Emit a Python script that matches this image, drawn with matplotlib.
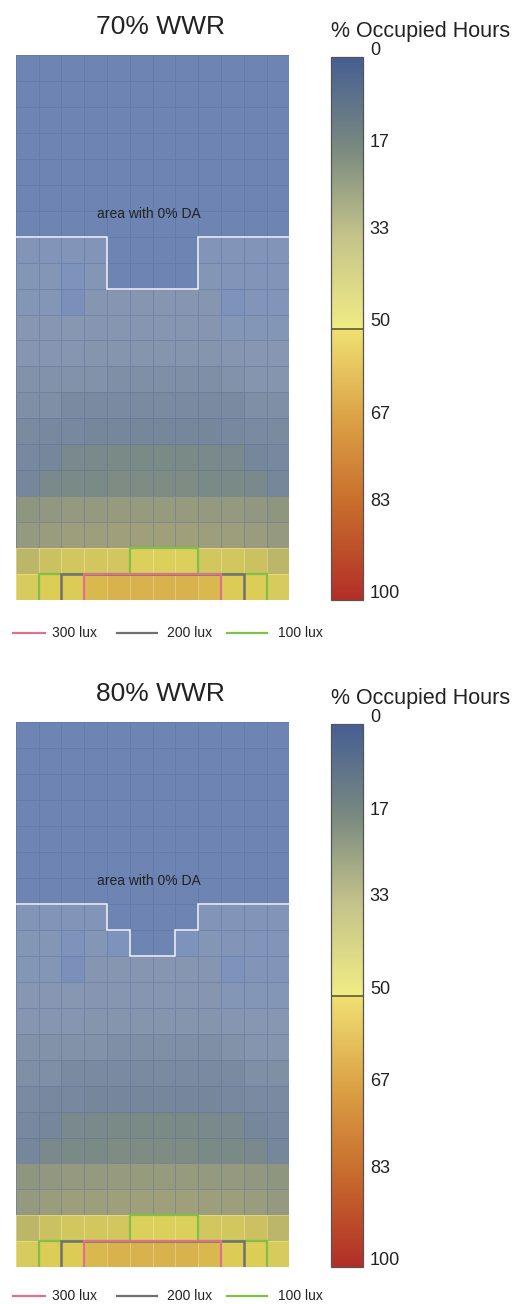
import numpy as np
import matplotlib
matplotlib.use("Agg")
import matplotlib.pyplot as plt
from matplotlib.colors import LinearSegmentedColormap, Normalize, to_rgba
from matplotlib.cm import ScalarMappable
from matplotlib.lines import Line2D
from matplotlib import transforms

plt.rcParams['font.family'] = ['Liberation Sans', 'DejaVu Sans']

# ---------------- data ----------------
panel_titles = ["70% WWR", "80% WWR"]
cbar_title = "% Occupied Hours"
cbar_ticks = [0, 17, 33, 50, 67, 83, 100]
annotation = "area with 0% DA"
legend_labels = ["300 lux", "200 lux", "100 lux"]

n_cols = 12
n_rows = 21

# % occupied hours per cell (rows top -> bottom, window at the bottom)
da_70 = [
    [0] * 12, [0] * 12, [0] * 12, [0] * 12, [0] * 12, [0] * 12, [0] * 12,
    [4, 4, 4, 4, 0, 0, 0, 0, 4, 4, 4, 4],
    [5, 5, 3, 5, 0, 0, 0, 0, 5, 4, 4, 4],
    [5, 5, 2, 7, 7, 7, 7, 7, 7, 3, 4, 4],
    [6, 6, 6, 7, 7, 7, 7, 7, 7, 5, 5, 5],
    [7, 7, 7, 8, 8, 8, 8, 8, 8, 7, 6, 6],
    [9, 9, 9, 9, 10, 10, 10, 10, 10, 9, 8, 8],
    [10, 10, 11, 11, 11, 11, 11, 11, 11, 11, 10, 10],
    [11, 12, 12, 13, 13, 13, 13, 13, 13, 12, 11, 11],
    [12, 13, 15, 15, 16, 16, 16, 16, 15, 15, 13, 12],
    [13, 15, 16, 16, 17, 17, 17, 17, 16, 16, 15, 13],
    [22, 23, 24, 24, 25, 25, 25, 25, 24, 24, 23, 22],
    [24, 26, 27, 27, 28, 28, 28, 28, 27, 27, 26, 24],
    [36, 40, 42, 42, 42, 46, 46, 46, 42, 42, 40, 36],
    [44, 50, 52, 58, 60, 60, 60, 60, 58, 52, 50, 44],
]
da_80 = [
    [0] * 12, [0] * 12, [0] * 12, [0] * 12, [0] * 12, [0] * 12, [0] * 12,
    [4, 4, 4, 4, 0, 0, 0, 0, 4, 4, 4, 4],
    [5, 5, 3, 5, 3, 0, 0, 3, 5, 4, 4, 4],
    [5, 5, 2, 7, 7, 7, 7, 7, 7, 3, 4, 4],
    [6, 6, 6, 7, 7, 7, 7, 7, 7, 5, 5, 5],
    [7, 7, 7, 8, 8, 8, 8, 8, 8, 7, 6, 6],
    [9, 9, 9, 9, 10, 10, 10, 10, 10, 9, 8, 8],
    [10, 10, 11, 11, 11, 11, 11, 11, 11, 11, 10, 10],
    [11, 12, 12, 13, 13, 13, 13, 13, 13, 12, 11, 11],
    [12, 13, 15, 15, 16, 16, 16, 16, 15, 15, 13, 12],
    [13, 15, 16, 16, 17, 17, 17, 17, 16, 16, 15, 13],
    [22, 23, 24, 24, 25, 25, 25, 25, 24, 24, 23, 22],
    [24, 26, 27, 27, 28, 28, 28, 28, 27, 27, 26, 24],
    [36, 40, 42, 42, 42, 46, 46, 46, 42, 42, 40, 36],
    [44, 50, 52, 58, 60, 60, 60, 60, 58, 52, 50, 44],
]

# rows (from top) with 0% DA in each column
zero_da_depth_70 = [7, 7, 7, 7, 9, 9, 9, 9, 7, 7, 7, 7]
zero_da_depth_80 = [7, 7, 7, 7, 8, 9, 9, 8, 7, 7, 7, 7]

# rows (from bottom/window) reaching each illuminance, per column
lux300_depth = [0, 0, 0, 1, 1, 1, 1, 1, 1, 0, 0, 0]
lux200_depth = [0, 0, 1, 1, 1, 1, 1, 1, 1, 1, 0, 0]
lux100_depth = [0, 1, 1, 1, 1, 2, 2, 2, 1, 1, 1, 0]

panels = [
    (panel_titles[0], da_70, zero_da_depth_70),
    (panel_titles[1], da_80, zero_da_depth_80),
]

# ---------------- styles ----------------
W, H = 528, 1304
fig = plt.figure(figsize=(W / 100, H / 100), dpi=100)

heat_cmap = LinearSegmentedColormap.from_list("heat", [
    (0 / 100, '#6e85b4'), (3 / 100, '#8094bc'), (6 / 100, '#8797b2'),
    (8 / 100, '#8595ad'), (11 / 100, '#7a8ba1'), (13 / 100, '#76879b'),
    (16 / 100, '#7b8a84'), (22 / 100, '#8f9680'), (25 / 100, '#979b7e'),
    (28 / 100, '#9fa07b'), (36 / 100, '#bcb668'), (42 / 100, '#d2c75e'),
    (46 / 100, '#dcd05c'), (52 / 100, '#dccb54'), (60 / 100, '#d8b24c'),
    (1.0, '#b5312a')])
bar_cmap = LinearSegmentedColormap.from_list("bar", [
    (0.0, '#465e92'), (0.17, '#7a8a80'), (0.33, '#c4c38a'),
    (0.499, '#f0ec84'), (0.5, '#efe174'), (0.67, '#dba044'),
    (0.83, '#c76b2c'), (1.0, '#b22e28')], N=512)
norm = Normalize(0, 100)

LUX_COLORS = ['#e0708c', '#707070', '#80c048']


def top_outline(depth):
    """Step outline from the top edge: y measured as rows from top."""
    xs, ys = [0], [depth[0]]
    for i, d in enumerate(depth):
        if i > 0 and d != depth[i - 1]:
            xs.append(i); ys.append(depth[i - 1])
            xs.append(i); ys.append(d)
    xs.append(len(depth)); ys.append(depth[-1])
    return xs, ys


def bottom_outline(depth, nrows):
    """Step outline of region rising from the bottom edge (no bottom line)."""
    xs, ys = [], []
    prev = 0
    for i, d in enumerate(depth):
        if d != prev:
            xs.append(i); ys.append(nrows - prev)
            xs.append(i); ys.append(nrows - d)
        prev = d
    if prev != 0:
        xs.append(len(depth)); ys.append(nrows - prev)
        xs.append(len(depth)); ys.append(nrows)
    return xs, ys


off = 667.3  # vertical pixel offset between the two panels
for p, (title, data, zero_depth) in enumerate(panels):
    dy = off * p
    arr = np.array(data, dtype=float)
    ax = fig.add_axes([15.7 / W, 1 - (600 + dy) / H, 273.6 / W, 545 / H])
    mesh = ax.pcolormesh(np.arange(n_cols + 1), np.arange(n_rows + 1), arr,
                         cmap=heat_cmap, norm=norm, linewidth=0.6)
    # grid lines: darker on blue cells, lighter on yellow cells
    flat = arr.ravel()
    dark = np.array(to_rgba('#4f6699', 0.34))
    light = np.array(to_rgba('#fff6c0', 0.35))
    ec = np.where((flat < 33)[:, None], dark[None, :], light[None, :])
    mesh.set_edgecolor(ec)
    ax.set_xlim(0, n_cols)
    ax.set_ylim(n_rows, 0)
    ax.set_axis_off()

    # 0% DA outline
    xs, ys = top_outline(zero_depth)
    ax.plot(xs, ys, color='#f4f4f4', lw=1.1, solid_joinstyle='miter', clip_on=False)
    ax.text(5.85, 6.13, annotation, ha='center', va='center', fontsize=10,
            color='#222222')

    # illuminance outlines
    for depth, col, lw in [(lux100_depth, LUX_COLORS[2], 1.6),
                           (lux200_depth, LUX_COLORS[1], 1.8),
                           (lux300_depth, LUX_COLORS[0], 1.6)]:
        xs, ys = bottom_outline(depth, n_rows)
        ax.plot(xs, ys, color=col, lw=lw, solid_joinstyle='miter')

    # title
    fig.text(160 / W, 1 - (34 + dy) / H, title, ha='center', va='baseline',
             fontsize=19, color='#222222')

    # colorbar
    cax = fig.add_axes([330.7 / W, 1 - (600 + dy) / H, 32.6 / W, 543 / H])
    cb = fig.colorbar(ScalarMappable(norm=norm, cmap=bar_cmap), cax=cax)
    cb.ax.invert_yaxis()
    cb.set_ticks([])
    cb.outline.set_linewidth(0.9)
    cb.outline.set_edgecolor('#555555')
    cax.axhline(50, color='#6b6535', lw=1.3)
    tr = transforms.offset_copy(
        transforms.blended_transform_factory(cax.transAxes, cax.transData),
        fig=fig, x=0, y=6.5, units='dots')
    for v in cbar_ticks:
        cax.text(1.2, v, str(v), transform=tr, ha='left', va='center',
                 fontsize=13, color='#222222')
    fig.text(331 / W, 1 - (37 + dy) / H, cbar_title, ha='left', va='baseline',
             fontsize=15.5, color='#222222')

    # legend
    ly = 1 - (632.7 + min(dy, 663)) / H
    segs = [(12.7, 45), (116.7, 156.7), (226.7, 266.7)]
    txt_x = [51.7, 166.7, 278]
    for (x0, x1), col, lab, tx in zip(segs, LUX_COLORS, legend_labels, txt_x):
        fig.add_artist(Line2D([x0 / W, x1 / W], [ly, ly], color=col, lw=1.6,
                              transform=fig.transFigure))
        fig.text(tx / W, ly, lab, ha='left', va='center', fontsize=10,
                 color='#222222')

fig.savefig("out.png", dpi=100, facecolor='white')
